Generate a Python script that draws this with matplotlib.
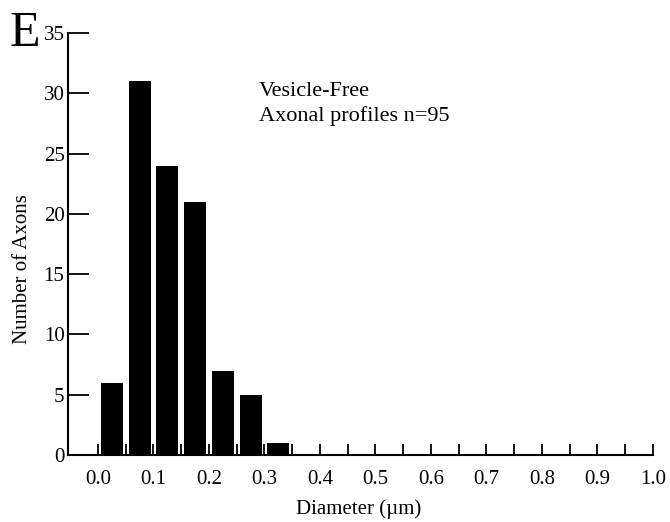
import matplotlib
matplotlib.use("Agg")
import matplotlib.pyplot as plt
import numpy as np

bin_centers = [0.025, 0.075, 0.125, 0.175, 0.225, 0.275, 0.325]
counts = [6, 31, 24, 21, 7, 5, 1]
x_ticks = [0.0, 0.1, 0.2, 0.3, 0.4, 0.5, 0.6, 0.7, 0.8, 0.9, 1.0]
x_ticklabels = ["0.0", "0.1", "0.2", "0.3", "0.4", "0.5", "0.6", "0.7", "0.8", "0.9", "1.0"]
y_ticks = [0, 5, 10, 15, 20, 25, 30, 35]

plt.rcParams['font.family'] = ['Liberation Serif', 'DejaVu Serif']

fig = plt.figure(figsize=(6.7, 5.22), dpi=100)
ax = fig.add_axes([0.1015, 0.1284, 0.8731, 0.8084])

ax.bar(bin_centers, counts, width=0.04, color='black', zorder=3)

ax.set_xlim(-0.054, 1.0)
ax.set_ylim(0, 35)
ax.set_xticks(x_ticks)
ax.set_xticklabels(x_ticklabels)
ax.set_xticks(np.arange(0.05, 1.0, 0.1), minor=True)
ax.set_yticks(y_ticks)

for s in ['top', 'right']:
    ax.spines[s].set_visible(False)
for s in ['left', 'bottom']:
    ax.spines[s].set_linewidth(1.5)

ax.tick_params(axis='x', which='both', direction='in', length=8, width=1.3, labelsize=15, pad=10.5)
ax.tick_params(axis='y', direction='in', length=15, width=1.3, labelsize=15, pad=2.5)

ax.set_xlabel("Diameter (µm)", fontsize=15)
ax.set_ylabel("Number of Axons", fontsize=15)
ax.xaxis.set_label_coords(0.496, -0.104)
ax.yaxis.set_label_coords(-0.062, 0.44)

ax.text(0.3265, 0.851, "Vesicle-Free", transform=ax.transAxes,
        fontsize=16, va='baseline', ha='left')
ax.text(0.3265, 0.792, "Axonal profiles n=95", transform=ax.transAxes,
        fontsize=16, va='baseline', ha='left')

fig.text(0.014, 0.9119, "E", fontsize=36, va='baseline', ha='left')

fig.savefig("out.png", dpi=100)
